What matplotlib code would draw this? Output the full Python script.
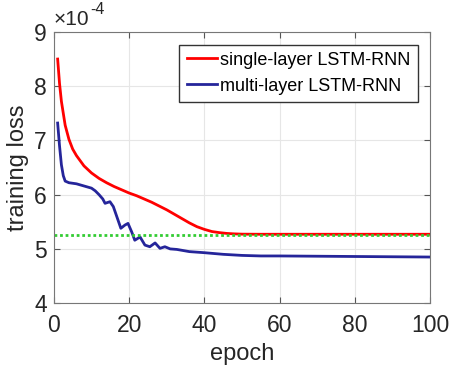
import numpy as np
import matplotlib
matplotlib.use('Agg')
import matplotlib.pyplot as plt

plt.rcParams['font.family'] = ['Liberation Sans', 'DejaVu Sans']

# training loss (x 1e-4)
single_epoch = [1, 1.5, 2, 3, 4, 5, 6, 8, 10, 12, 14, 16, 18, 20, 22, 24, 26, 28, 30,
                32, 34, 36, 38, 40, 42, 44, 46, 48, 50, 55, 60, 70, 80, 90, 100]
single_loss = [8.50, 8.05, 7.72, 7.28, 7.02, 6.84, 6.72, 6.53, 6.40, 6.30, 6.22, 6.15,
               6.09, 6.03, 5.98, 5.92, 5.86, 5.79, 5.72, 5.64, 5.56, 5.48, 5.41, 5.36,
               5.32, 5.30, 5.285, 5.277, 5.272, 5.27, 5.27, 5.27, 5.27, 5.27, 5.27]

multi_epoch = [1, 1.5, 2, 2.5, 3, 4, 5, 6, 7, 8, 9, 10, 11, 12, 13, 13.6, 14.9, 15.8,
               16.7, 17.8, 18.9, 19.7, 20.7, 21.5, 22.9, 24.2, 25.5, 26.9, 28.2, 29.5,
               30.9, 32.7, 36, 40, 45, 50, 55, 60, 70, 80, 90, 100]
multi_loss = [7.32, 6.90, 6.55, 6.35, 6.25, 6.22, 6.21, 6.20, 6.18, 6.16, 6.14, 6.12,
              6.07, 6.00, 5.92, 5.84, 5.87, 5.78, 5.60, 5.38, 5.44, 5.47, 5.31, 5.16,
              5.22, 5.07, 5.04, 5.11, 5.01, 5.04, 5.00, 4.99, 4.95, 4.93, 4.90, 4.88,
              4.87, 4.87, 4.865, 4.86, 4.855, 4.85]

target_epoch = [0, 100]
target_loss = [5.26, 5.26]

fig = plt.figure(figsize=(4.49, 3.67), dpi=100)
ax = fig.add_axes([0.120, 0.174, 0.838, 0.739])

ax.plot(single_epoch, single_loss, color='#ff0000', lw=2, label='single-layer LSTM-RNN')
ax.plot(multi_epoch, multi_loss, color='#25259a', lw=2, label='multi-layer LSTM-RNN')
ax.plot(target_epoch, target_loss, color='#33cc33', lw=2, ls=(0, (1, 1)))

ax.set_xlim(0, 100)
ax.set_ylim(4, 9)
ax.set_xticks([0, 20, 40, 60, 80, 100])
ax.set_yticks([4, 5, 6, 7, 8, 9])
ax.grid(True, color='#e6e6e6', lw=0.8)
ax.tick_params(direction='in', top=True, right=True, labelsize=16.5, length=4,
               color='#555555', labelcolor='#262626')
ax.tick_params(axis='x', pad=8)
ax.tick_params(axis='y', pad=5)
for s in ax.spines.values():
    s.set_color('#777777')
    s.set_linewidth(0.8)

ax.set_xlabel('epoch', fontsize=17, labelpad=4, color='#262626')
ax.set_ylabel('training loss', fontsize=17, labelpad=4, color='#262626')

# exponent label above the y axis, MATLAB style
base = ax.text(0, 1.012, '×10', transform=ax.transAxes, fontsize=15,
               ha='left', va='bottom', color='#262626')
ax.annotate('-4', xy=(1, 1), xycoords=base, xytext=(0.5, -5),
            textcoords='offset points', fontsize=11.5, ha='left', va='bottom',
            color='#262626')

ax.legend(loc='upper right', fontsize=13, frameon=True, fancybox=False,
          edgecolor='#333333', framealpha=1, handlelength=1.7, handletextpad=0.15,
          borderpad=0.4, labelspacing=0.5, borderaxespad=0.7)

fig.savefig('out.png', dpi=100)
